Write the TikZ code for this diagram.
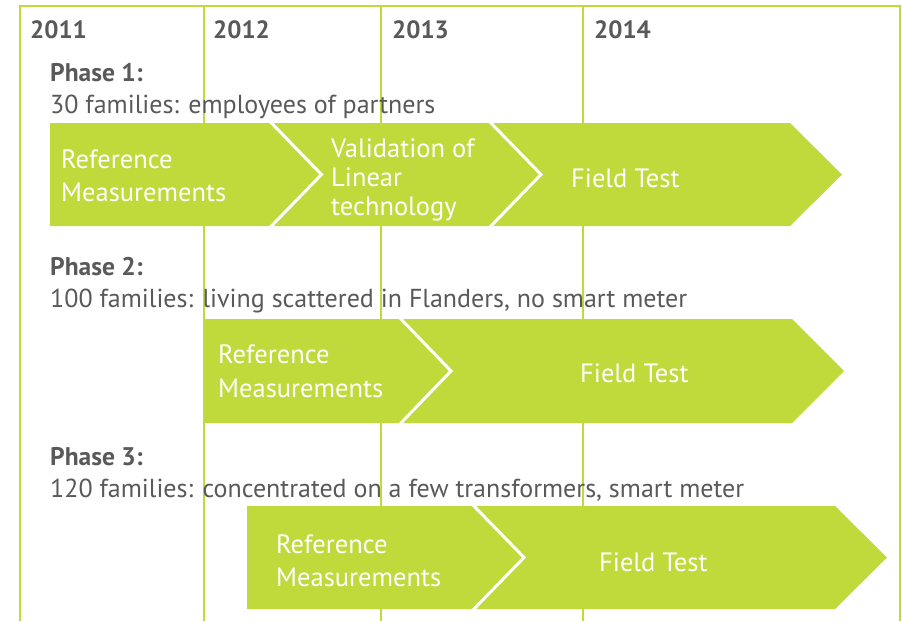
\documentclass[tikz,border=0pt]{standalone}
\usepackage{fontspec}
\setmainfont{PT Sans}
\definecolor{lime}{RGB}{192,217,59}
\definecolor{txtgray}{RGB}{89,89,89}
\tikzset{
  gridline/.style={draw=lime, line width=2pt},
  band/.style={fill=lime, draw=none},
  sep/.style={draw=white, line width=3pt, line join=miter},
  yeartext/.style={anchor=base west, inner sep=0pt, text=txtgray, font=\fontsize{25}{30}\selectfont\bfseries},
  phasehead/.style={anchor=base west, inner sep=0pt, text=txtgray, font=\fontsize{25.5}{30}\selectfont\bfseries},
  phasedesc/.style={anchor=base west, inner sep=0pt, text=txtgray, font=\fontsize{26}{30}\selectfont},
  boxtext/.style={anchor=base west, inner sep=0pt, text=white, font=\fontsize{26.5}{30}\selectfont},
}
\begin{document}
\begin{tikzpicture}[x=1pt,y=-1pt]
\useasboundingbox (0,0) rectangle (902,621);
% grid
\coordinate (tl) at (20,6);
\coordinate (tr) at (900,6);
\draw[gridline] (20,621) -- (tl) -- (tr) -- (900,621);
\draw[gridline] (204,6) -- (204,621);
\draw[gridline] (381,6) -- (381,621);
\draw[gridline] (583,6) -- (583,621);
% years
\node[yeartext] (y11) at (30,38) {2011};
\node[yeartext] (y12) at (213,38) {2012};
\node[yeartext] (y13) at (392,38) {2013};
\node[yeartext] (y14) at (594,38) {2014};
% Phase 1
\node[phasehead] (p1h) at (50,81) {Phase 1:};
\node[phasedesc] (p1d) at (50,113) {30 families: employees of partners};
\fill[band] (50,123) -- (790,123) -- (842,174.5) -- (790,226) -- (50,226) -- cycle;
\draw[sep] (269.5,121) -- (321.5,174.5) -- (269.5,228);
\draw[sep] (489,121) -- (541,174.5) -- (489,228);
\node[boxtext] (r1a) at (61,168) {Reference};
\node[boxtext] (r1b) at (61,201) {Measurements};
\node[boxtext] (v1a) at (331,157) {Validation of};
\node[boxtext] (v1b) at (331,186) {Linear};
\node[boxtext] (v1c) at (331,215) {technology};
\node[boxtext] (f1) at (571,187) {Field Test};
% Phase 2
\node[phasehead] (p2h) at (50,275) {Phase 2:};
\node[phasedesc] (p2d) at (50,307) {100 families: living scattered in Flanders, no smart meter};
\fill[band] (203,319) -- (792,319) -- (844,371) -- (792,423) -- (203,423) -- cycle;
\draw[sep] (399,317) -- (451,371) -- (399,425);
\node[boxtext] (r2a) at (218,363) {Reference};
\node[boxtext] (r2b) at (218,397) {Measurements};
\node[boxtext] (f2) at (580,382) {Field Test};
% Phase 3
\node[phasehead] (p3h) at (50,465) {Phase 3:};
\node[phasedesc] (p3d) at (50,497) {120 families: concentrated on a few transformers, smart meter};
\fill[band] (247,506) -- (835,506) -- (887,557.5) -- (835,609) -- (247,609) -- cycle;
\draw[sep] (472,504) -- (524,557.5) -- (472,611);
\node[boxtext] (r3a) at (276,553) {Reference};
\node[boxtext] (r3b) at (276,586) {Measurements};
\node[boxtext] (f3) at (599,571) {Field Test};
\end{tikzpicture}
\end{document}
